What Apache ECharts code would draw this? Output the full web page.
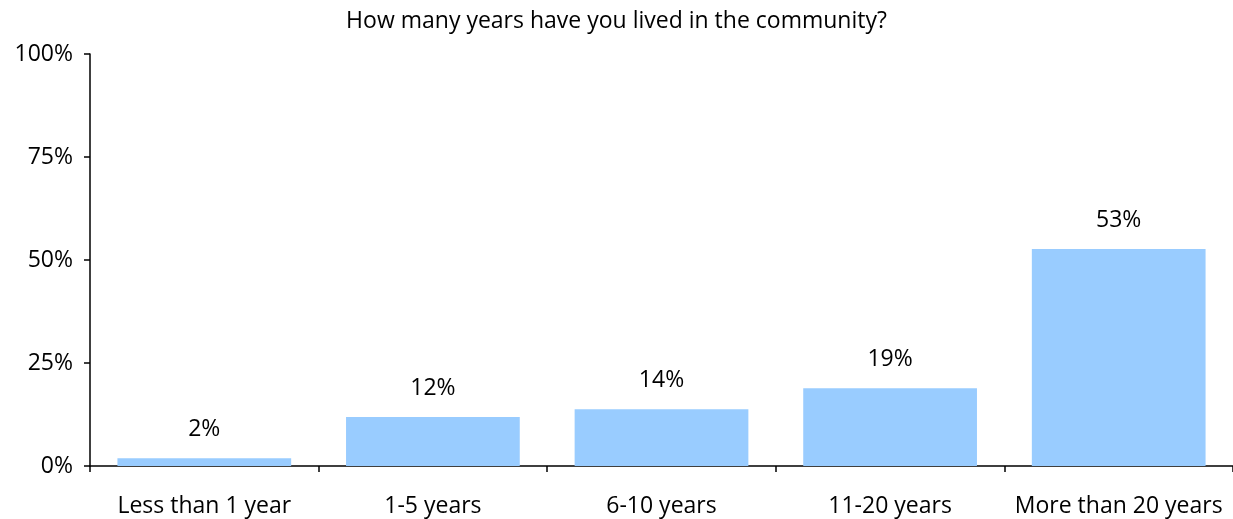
<!DOCTYPE html>
<html><head><meta charset="utf-8">
<script src="https://cdn.jsdelivr.net/npm/echarts@6/dist/echarts.min.js"></script>
<style>html,body{margin:0;padding:0;background:#fff}#c{width:1233px;height:519px}</style>
</head><body><div id="c"></div>
<script>
const categories = ["Less than 1 year", "1-5 years", "6-10 years", "11-20 years", "More than 20 years"];
const values = [1.9, 11.9, 13.8, 18.9, 52.7];
const yTicks = [0, 25, 50, 75, 100];
const titleText = "How many years have you lived in the community?";
const font = "'Open Sans', sans-serif";
const chart = echarts.init(document.getElementById('c'));
chart.setOption({
  animation: false,
  title: {text: titleText, left: 'center', top: 5, textStyle: {fontFamily: font, fontSize: 23, fontWeight: 'normal', color: '#000'}},
  grid: {left: 90, top: 54, width: 1145, height: 412},
  xAxis: {type: 'category', data: categories,
    axisLine: {lineStyle: {color: '#000', width: 1.5}},
    axisTick: {show: true, length: 6, alignWithLabel: false, lineStyle: {color: '#000', width: 1.5}},
    axisLabel: {interval: 0, margin: 29, fontFamily: font, fontSize: 23, color: '#000'}},
  yAxis: {type: 'value', min: yTicks[0], max: yTicks[yTicks.length-1], interval: 25,
    axisLine: {show: true, lineStyle: {color: '#000', width: 1.5}},
    axisTick: {show: true, length: 6, lineStyle: {color: '#000', width: 1.5}},
    splitLine: {show: false},
    axisLabel: {margin: 17, fontFamily: font, fontSize: 23, color: '#000', formatter: v => v + '%'}},
  series: [{type: 'bar', data: values, barCategoryGap: '24%', itemStyle: {color: '#99CCFF'},
    label: {show: true, position: 'top', distance: 17, fontFamily: font, fontSize: 23, color: '#000', formatter: p => Math.round(p.value) + '%'}}]
});
</script></body></html>
